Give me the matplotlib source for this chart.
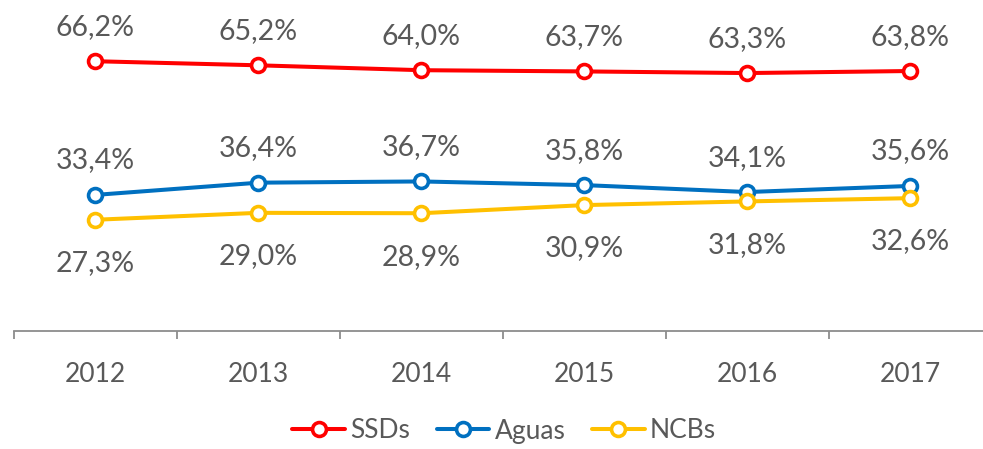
import matplotlib
matplotlib.use("Agg")
import matplotlib.pyplot as plt
from matplotlib.ticker import FixedLocator

years = ["2012", "2013", "2014", "2015", "2016", "2017"]
ssds = [66.2, 65.2, 64.0, 63.7, 63.3, 63.8]
aguas = [33.4, 36.4, 36.7, 35.8, 34.1, 35.6]
ncbs = [27.3, 29.0, 28.9, 30.9, 31.8, 32.6]

series = [
    ("SSDs", ssds, "#FF0000", 19),
    ("Aguas", aguas, "#0070C0", 19),
    ("NCBs", ncbs, "#FFC000", -37),
]

plt.rcParams['font.family'] = ['Lato', 'DejaVu Sans']
TXT = "#595959"

fig = plt.figure(figsize=(9.83, 4.49), dpi=100)
W, H = 983, 449
left_px, right_px = 14, 992
bottom_px, top_px = 331, 5
ax = fig.add_axes([left_px / W, 1 - bottom_px / H, (right_px - left_px) / W, (bottom_px - top_px) / H])
ax.set_xlim(-0.5, len(years) - 0.5)
ax.set_ylim(0, 80)

x = list(range(len(years)))
handles = []
for name, vals, col, off in series:
    h, = ax.plot(x, vals, color=col, lw=2.9, marker='o', ms=10, mfc='white',
                 mec=col, mew=2.6, label=name, solid_capstyle='round', clip_on=False)
    handles.append(h)
    for xi, v in zip(x, vals):
        lab = f"{v:.1f}".replace('.', ',') + '%'
        ax.annotate(lab, (xi, v), xytext=(0, off), textcoords='offset points',
                    ha='center', va='baseline', fontsize=20.5, color=TXT)

for s in ['left', 'right', 'top']:
    ax.spines[s].set_visible(False)
ax.spines['bottom'].set_color('#8C8C8C')
ax.spines['bottom'].set_linewidth(1.3)
ax.set_yticks([])
ax.set_xticks(x)
ax.set_xticklabels(years, fontsize=19, color=TXT)
ax.tick_params(axis='x', which='major', length=0, pad=22)
ax.xaxis.set_minor_locator(FixedLocator([i - 0.5 for i in range(len(years) + 1)]))
ax.tick_params(axis='x', which='minor', length=6, width=1.3, color='#8C8C8C', direction='out')

leg = fig.legend(handles=handles, loc='center', bbox_to_anchor=(0.513, 1 - 431 / H), ncol=3,
                 frameon=False, fontsize=19, handlelength=2.0, handletextpad=0.2,
                 columnspacing=1.0, borderaxespad=0)
for t in leg.get_texts():
    t.set_color(TXT)

fig.savefig("out.png", dpi=100)
